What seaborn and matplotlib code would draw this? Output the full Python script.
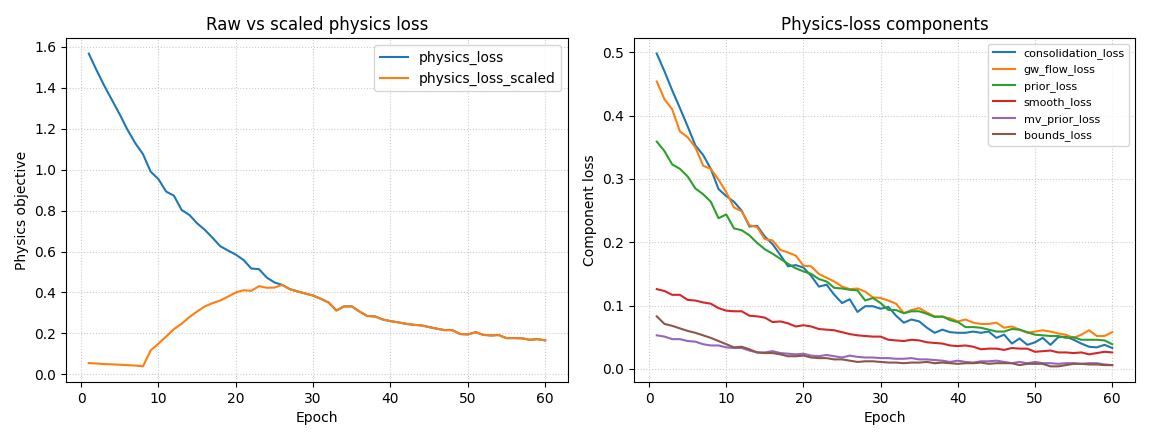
import matplotlib
matplotlib.use("Agg")
import matplotlib.pyplot as plt
import seaborn as sns
import pandas as pd

epochs = list(range(1, 61))

physics_loss = [1.567, 1.486, 1.410, 1.340, 1.270, 1.195, 1.130, 1.076, 0.990, 0.954,
                0.893, 0.873, 0.803, 0.779, 0.738, 0.706, 0.667, 0.626, 0.605, 0.585,
                0.559, 0.517, 0.514, 0.473, 0.449, 0.437, 0.416, 0.405, 0.395, 0.385,
                0.369, 0.351, 0.312, 0.332, 0.332, 0.307, 0.285, 0.283, 0.268, 0.260,
                0.254, 0.247, 0.242, 0.239, 0.231, 0.223, 0.216, 0.216, 0.197, 0.195,
                0.206, 0.193, 0.190, 0.192, 0.177, 0.177, 0.176, 0.169, 0.172, 0.166]

physics_loss_scaled = [0.055, 0.053, 0.050, 0.049, 0.047, 0.045, 0.043, 0.039, 0.117, 0.150,
                       0.185, 0.221, 0.247, 0.280, 0.307, 0.332, 0.348, 0.361, 0.380, 0.400,
                       0.411, 0.408, 0.431, 0.423, 0.424, 0.437, 0.416, 0.405, 0.395, 0.385,
                       0.369, 0.351, 0.312, 0.332, 0.332, 0.307, 0.285, 0.283, 0.268, 0.260,
                       0.254, 0.247, 0.242, 0.239, 0.231, 0.223, 0.216, 0.216, 0.197, 0.195,
                       0.206, 0.193, 0.190, 0.192, 0.177, 0.177, 0.176, 0.169, 0.172, 0.166]

consolidation_loss = [0.498, 0.470, 0.440, 0.412, 0.383, 0.353, 0.338, 0.316, 0.284, 0.273,
                      0.264, 0.250, 0.225, 0.226, 0.209, 0.197, 0.180, 0.162, 0.164, 0.160,
                      0.147, 0.130, 0.133, 0.117, 0.104, 0.110, 0.090, 0.099, 0.099, 0.095,
                      0.098, 0.084, 0.073, 0.078, 0.075, 0.065, 0.057, 0.062, 0.058, 0.057,
                      0.057, 0.059, 0.057, 0.059, 0.049, 0.054, 0.040, 0.048, 0.038, 0.042,
                      0.049, 0.038, 0.050, 0.051, 0.046, 0.040, 0.035, 0.034, 0.038, 0.033]
gw_flow_loss = [0.454, 0.426, 0.410, 0.375, 0.366, 0.350, 0.321, 0.316, 0.299, 0.279,
                0.255, 0.249, 0.227, 0.224, 0.205, 0.203, 0.188, 0.184, 0.179, 0.163,
                0.162, 0.150, 0.144, 0.138, 0.130, 0.126, 0.127, 0.122, 0.113, 0.112,
                0.108, 0.103, 0.088, 0.093, 0.096, 0.089, 0.083, 0.082, 0.080, 0.075,
                0.078, 0.073, 0.071, 0.071, 0.073, 0.065, 0.067, 0.062, 0.057, 0.059,
                0.061, 0.059, 0.056, 0.054, 0.049, 0.054, 0.061, 0.052, 0.052, 0.058]
prior_loss = [0.359, 0.344, 0.323, 0.316, 0.304, 0.285, 0.276, 0.264, 0.238, 0.244,
              0.222, 0.219, 0.211, 0.199, 0.189, 0.182, 0.174, 0.166, 0.159, 0.154,
              0.150, 0.142, 0.138, 0.128, 0.127, 0.125, 0.124, 0.108, 0.112, 0.104,
              0.093, 0.093, 0.088, 0.091, 0.091, 0.087, 0.082, 0.083, 0.077, 0.074,
              0.066, 0.066, 0.065, 0.062, 0.059, 0.059, 0.063, 0.062, 0.058, 0.054,
              0.053, 0.052, 0.052, 0.049, 0.050, 0.046, 0.046, 0.046, 0.045, 0.039]
smooth_loss = [0.126, 0.123, 0.117, 0.117, 0.109, 0.108, 0.105, 0.103, 0.096, 0.092,
               0.091, 0.091, 0.084, 0.083, 0.081, 0.074, 0.075, 0.072, 0.067, 0.069,
               0.067, 0.063, 0.062, 0.061, 0.058, 0.055, 0.053, 0.052, 0.051, 0.051,
               0.046, 0.045, 0.044, 0.046, 0.045, 0.042, 0.041, 0.040, 0.037, 0.036,
               0.037, 0.035, 0.031, 0.032, 0.032, 0.030, 0.033, 0.032, 0.032, 0.027,
               0.028, 0.029, 0.026, 0.026, 0.025, 0.026, 0.023, 0.025, 0.027, 0.026]
mv_prior_loss = [0.053, 0.051, 0.047, 0.047, 0.044, 0.043, 0.039, 0.037, 0.037, 0.034,
                 0.033, 0.033, 0.029, 0.026, 0.026, 0.028, 0.025, 0.024, 0.023, 0.024,
                 0.021, 0.020, 0.022, 0.020, 0.018, 0.021, 0.019, 0.018, 0.018, 0.017,
                 0.017, 0.016, 0.016, 0.017, 0.015, 0.015, 0.014, 0.013, 0.011, 0.013,
                 0.011, 0.010, 0.012, 0.012, 0.013, 0.011, 0.009, 0.011, 0.009, 0.011,
                 0.009, 0.009, 0.008, 0.009, 0.009, 0.008, 0.009, 0.009, 0.007, 0.006]
bounds_loss = [0.083, 0.071, 0.068, 0.064, 0.060, 0.057, 0.053, 0.049, 0.044, 0.039,
               0.034, 0.035, 0.031, 0.026, 0.025, 0.025, 0.023, 0.020, 0.020, 0.021,
               0.018, 0.017, 0.017, 0.015, 0.015, 0.013, 0.011, 0.012, 0.012, 0.011,
               0.010, 0.010, 0.009, 0.010, 0.010, 0.011, 0.009, 0.010, 0.009, 0.008,
               0.009, 0.009, 0.010, 0.008, 0.009, 0.009, 0.009, 0.006, 0.008, 0.008,
               0.008, 0.004, 0.004, 0.006, 0.008, 0.008, 0.007, 0.007, 0.006, 0.006]

left_series = {"physics_loss": physics_loss, "physics_loss_scaled": physics_loss_scaled}
right_series = {"consolidation_loss": consolidation_loss, "gw_flow_loss": gw_flow_loss,
                "prior_loss": prior_loss, "smooth_loss": smooth_loss,
                "mv_prior_loss": mv_prior_loss, "bounds_loss": bounds_loss}


def long_df(series):
    rows = []
    for name, vals in series.items():
        for e, v in zip(epochs, vals):
            rows.append({"epoch": e, "value": v, "series": name})
    return pd.DataFrame(rows)


palette = sns.color_palette("tab10")

fig = plt.figure(figsize=(11.5, 4.4), dpi=100)
ax1 = fig.add_axes([66/1150, 58/440, 502/1150, 344/440])
ax2 = fig.add_axes([634/1150, 58/440, 501/1150, 344/440])

df1 = long_df(left_series)
sns.lineplot(data=df1, x="epoch", y="value", hue="series", palette=palette[:2],
             ax=ax1, linewidth=1.5)
ax1.set_title("Raw vs scaled physics loss", fontsize=12)
ax1.set_xlabel("Epoch")
ax1.set_ylabel("Physics objective")
ax1.grid(True, linestyle=":", color="#cccccc", linewidth=0.8)
h, l = ax1.get_legend_handles_labels()
ax1.legend(h, l, loc="upper right", fontsize=10)

df2 = long_df(right_series)
sns.lineplot(data=df2, x="epoch", y="value", hue="series", palette=palette[:6],
             ax=ax2, linewidth=1.5)
ax2.set_title("Physics-loss components", fontsize=12)
ax2.set_xlabel("Epoch")
ax2.set_ylabel("Component loss")
ax2.grid(True, linestyle=":", color="#cccccc", linewidth=0.8)
h, l = ax2.get_legend_handles_labels()
ax2.legend(h, l, loc="upper right", fontsize=8)

fig.savefig("out.png", dpi=100)
